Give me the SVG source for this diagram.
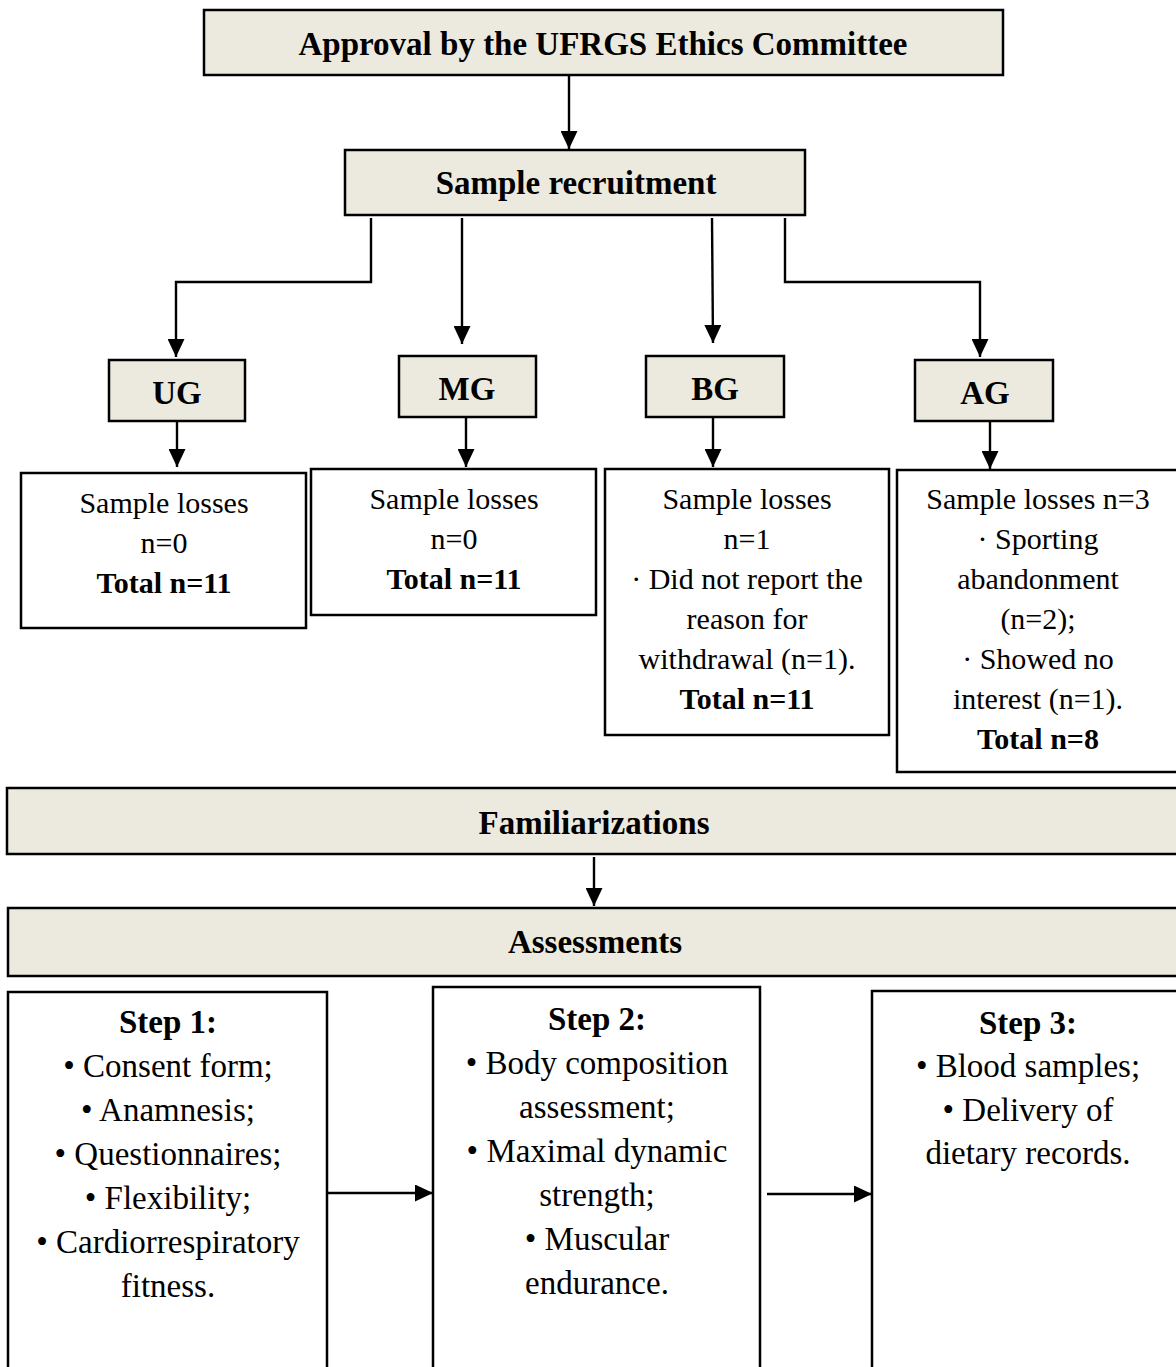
<svg xmlns="http://www.w3.org/2000/svg" width="1176" height="1367" viewBox="0 0 1176 1367">
<style>
.hdr{fill:#ECEADF;stroke:#000;stroke-width:2.5}
.box{fill:#fff;stroke:#000;stroke-width:2.5}
.conn{fill:none;stroke:#000;stroke-width:2.4}
text{font-family:"Liberation Serif","Times New Roman",serif;fill:#000;text-anchor:middle}
.b{font-weight:bold;font-size:33px}
.r{font-size:30px}
.rb{font-size:30px;font-weight:bold}
.s{font-size:33px}
</style>
<defs>
<marker id="ah" markerUnits="userSpaceOnUse" markerWidth="18" markerHeight="17" refX="18" refY="8.5" orient="auto">
<path d="M0,0 L18,8.5 L0,17 z" fill="#000"/>
</marker>
</defs>
<rect width="1176" height="1367" fill="#fff"/>
<g id="connectors">
<path class="conn" marker-end="url(#ah)" d="M569,75 L569,149"/>
<path class="conn" marker-end="url(#ah)" d="M371,218 L371,282 L176,282 L176,357"/>
<path class="conn" marker-end="url(#ah)" d="M462,218 L462,344"/>
<path class="conn" marker-end="url(#ah)" d="M712,218 L713,343"/>
<path class="conn" marker-end="url(#ah)" d="M785,218 L785,282 L980,282 L980,357"/>
<path class="conn" marker-end="url(#ah)" d="M177,421 L177,467"/>
<path class="conn" marker-end="url(#ah)" d="M466,417 L466,467"/>
<path class="conn" marker-end="url(#ah)" d="M713,417 L713,467"/>
<path class="conn" marker-end="url(#ah)" d="M990,421 L990,469"/>
<path class="conn" marker-end="url(#ah)" d="M594,857 L594,906"/>
<path class="conn" marker-end="url(#ah)" d="M327,1193 L433,1193"/>
<path class="conn" marker-end="url(#ah)" d="M767,1194 L872,1194"/>
</g>
<g id="approval">
<rect class="hdr" x="204" y="10" width="799" height="65"/>
<text class="b" x="603" y="55">Approval by the UFRGS Ethics Committee</text>
</g>
<g id="recruitment">
<rect class="hdr" x="345" y="150" width="460" height="65"/>
<text class="b" x="576" y="194">Sample recruitment</text>
</g>
<g id="ug">
<rect class="hdr" x="109" y="360" width="136" height="61"/>
<text class="b" x="177" y="404">UG</text>
</g>
<g id="mg">
<rect class="hdr" x="399" y="356" width="137" height="61"/>
<text class="b" x="467" y="400">MG</text>
</g>
<g id="bg">
<rect class="hdr" x="646" y="356" width="138" height="61"/>
<text class="b" x="715" y="400">BG</text>
</g>
<g id="ag">
<rect class="hdr" x="915" y="360" width="138" height="61"/>
<text class="b" x="985" y="404">AG</text>
</g>
<g id="ug-losses">
<rect class="box" x="21" y="473" width="285" height="155"/>
<text class="r" x="164" y="513">Sample losses</text>
<text class="r" x="164" y="553">n=0</text>
<text class="rb" x="164" y="593">Total n=11</text>
</g>
<g id="mg-losses">
<rect class="box" x="311" y="469" width="285" height="146"/>
<text class="r" x="454" y="509">Sample losses</text>
<text class="r" x="454" y="549">n=0</text>
<text class="rb" x="454" y="589">Total n=11</text>
</g>
<g id="bg-losses">
<rect class="box" x="605" y="469" width="284" height="266"/>
<text class="r" x="747" y="509">Sample losses</text>
<text class="r" x="747" y="549">n=1</text>
<text class="r" x="747" y="589">· Did not report the</text>
<text class="r" x="747" y="629">reason for</text>
<text class="r" x="747" y="669">withdrawal (n=1).</text>
<text class="rb" x="747" y="709">Total n=11</text>
</g>
<g id="ag-losses">
<rect class="box" x="897" y="470" width="285" height="302"/>
<text class="r" x="1038" y="509">Sample losses n=3</text>
<text class="r" x="1038" y="549">· Sporting</text>
<text class="r" x="1038" y="589">abandonment</text>
<text class="r" x="1038" y="629">(n=2);</text>
<text class="r" x="1038" y="669">· Showed no</text>
<text class="r" x="1038" y="709">interest (n=1).</text>
<text class="rb" x="1038" y="749">Total n=8</text>
</g>
<g id="familiarizations">
<rect class="hdr" x="7" y="788" width="1175" height="66"/>
<text class="b" x="594" y="834">Familiarizations</text>
</g>
<g id="assessments">
<rect class="hdr" x="8" y="908" width="1174" height="68"/>
<text class="b" x="595" y="953">Assessments</text>
</g>
<g id="step1">
<rect class="box" x="8" y="992" width="319" height="385"/>
<text class="b" x="168" y="1033">Step 1:</text>
<text class="s" x="168" y="1077">• Consent form;</text>
<text class="s" x="168" y="1121">• Anamnesis;</text>
<text class="s" x="168" y="1165">• Questionnaires;</text>
<text class="s" x="168" y="1209">• Flexibility;</text>
<text class="s" x="168" y="1253">• Cardiorrespiratory</text>
<text class="s" x="168" y="1297">fitness.</text>
</g>
<g id="step2">
<rect class="box" x="433" y="987" width="327" height="390"/>
<text class="b" x="597" y="1030">Step 2:</text>
<text class="s" x="597" y="1074">• Body composition</text>
<text class="s" x="597" y="1118">assessment;</text>
<text class="s" x="597" y="1162">• Maximal dynamic</text>
<text class="s" x="597" y="1206">strength;</text>
<text class="s" x="597" y="1250">• Muscular</text>
<text class="s" x="597" y="1294">endurance.</text>
</g>
<g id="step3">
<rect class="box" x="872" y="991" width="310" height="386"/>
<text class="b" x="1028" y="1034">Step 3:</text>
<text class="s" x="1028" y="1077">• Blood samples;</text>
<text class="s" x="1028" y="1121">• Delivery of</text>
<text class="s" x="1028" y="1164">dietary records.</text>
</g>
</svg>
